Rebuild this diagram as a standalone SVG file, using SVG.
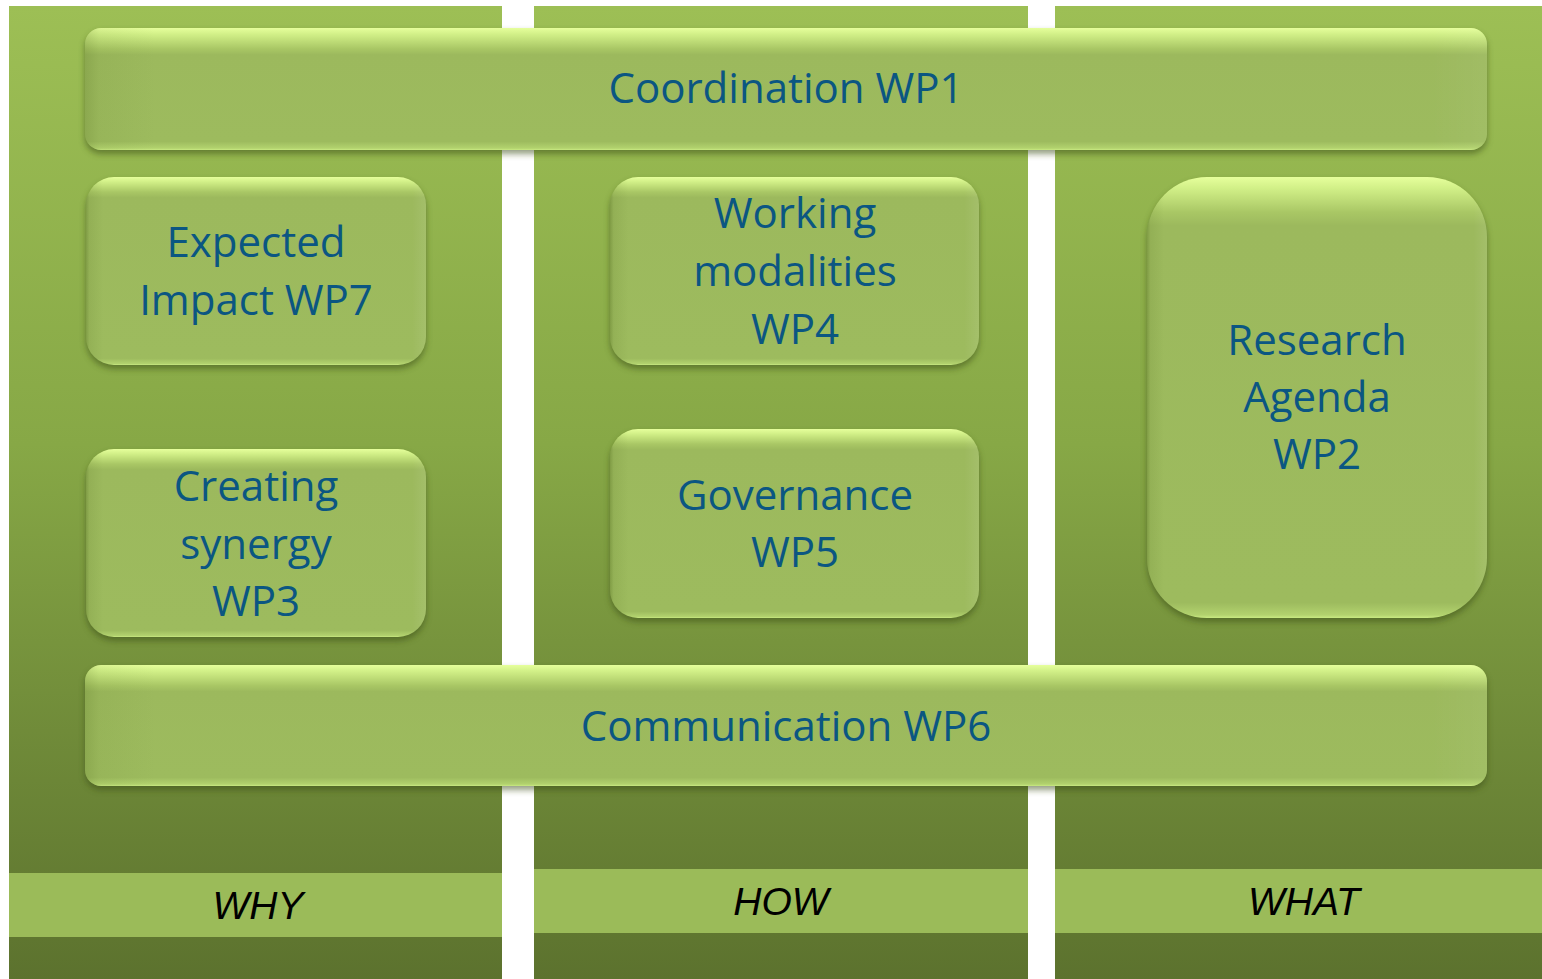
<svg xmlns="http://www.w3.org/2000/svg" width="1542" height="979" viewBox="0 0 1542 979">
<defs>
<linearGradient id="col" gradientUnits="userSpaceOnUse" x1="0" y1="6" x2="0" y2="979">
<stop offset="0" stop-color="#9dbf55"/>
<stop offset="0.45" stop-color="#87a846"/>
<stop offset="1" stop-color="#5c722e"/>
</linearGradient>
<linearGradient id="bev" x1="0" y1="0" x2="0" y2="1">
<stop offset="0" stop-color="#e6ff9c"/>
<stop offset="0.05" stop-color="#d2f088"/>
<stop offset="0.17" stop-color="#a9c765"/>
<stop offset="0.22" stop-color="#9cb95d"/>
<stop offset="0.93" stop-color="#9dbb5e"/>
<stop offset="0.985" stop-color="#b2d26e"/>
<stop offset="1" stop-color="#c9ea82"/>
</linearGradient>
<linearGradient id="bevT" x1="0" y1="0" x2="0" y2="1">
<stop offset="0" stop-color="#e6ff9c"/>
<stop offset="0.025" stop-color="#d2f088"/>
<stop offset="0.08" stop-color="#a9c765"/>
<stop offset="0.11" stop-color="#9cb95d"/>
<stop offset="0.965" stop-color="#9dbb5e"/>
<stop offset="0.993" stop-color="#b2d26e"/>
<stop offset="1" stop-color="#c9ea82"/>
</linearGradient>
<linearGradient id="side" x1="0" y1="0" x2="1" y2="0">
<stop offset="0" stop-color="#4a6418" stop-opacity="0.35"/>
<stop offset="0.01" stop-color="#506b1c" stop-opacity="0.12"/>
<stop offset="0.05" stop-color="#506b1c" stop-opacity="0"/>
<stop offset="0.96" stop-color="#ffffff" stop-opacity="0"/>
<stop offset="1" stop-color="#ffffff" stop-opacity="0.08"/>
</linearGradient>
<filter id="sh" x="-5%" y="-10%" width="110%" height="130%">
<feGaussianBlur stdDeviation="3"/>
</filter>
</defs>
<style>
.t{font-family:"Open Sans","Noto Sans",sans-serif;font-size:42px;fill:#0b5682;text-anchor:middle}
.l{font-family:"Liberation Sans",Arial,sans-serif;font-size:39px;font-style:italic;fill:#000;text-anchor:middle}
.shadow{fill:#3a4d16;opacity:0.55;filter:url(#sh)}
.band{fill:#9bbb59}
</style>
<rect width="1542" height="979" fill="#ffffff"/>
<g id="columns">
<rect x="9" y="6" width="493" height="973" fill="url(#col)"/>
<rect x="534" y="6" width="494" height="973" fill="url(#col)"/>
<rect x="1055" y="6" width="487" height="973" fill="url(#col)"/>
<rect class="band" x="9" y="873" width="493" height="64"/>
<rect class="band" x="534" y="869" width="494" height="64"/>
<rect class="band" x="1055" y="869" width="487" height="64"/>
<text class="l" x="258" y="919">WHY</text>
<text class="l" x="781" y="915">HOW</text>
<text class="l" x="1304" y="915">WHAT</text>
</g>
<g id="wp1">
<rect class="shadow" x="85" y="32" width="1402" height="122" rx="16"/>
<rect x="85" y="28" width="1402" height="122" rx="16" fill="url(#bev)"/>
<rect x="85" y="28" width="1402" height="122" rx="16" fill="url(#side)" opacity="0.6"/>
<text class="t" x="786" y="103">Coordination WP1</text>
</g>
<g id="wp7">
<rect class="shadow" x="86" y="181" width="340" height="188" rx="28"/>
<rect x="86" y="177" width="340" height="188" rx="28" fill="url(#bevT)"/>
<rect x="86" y="177" width="340" height="188" rx="28" fill="url(#side)"/>
<text class="t" x="256" y="257">Expected</text>
<text class="t" x="256" y="315">Impact WP7</text>
</g>
<g id="wp3">
<rect class="shadow" x="86" y="453" width="340" height="188" rx="28"/>
<rect x="86" y="449" width="340" height="188" rx="28" fill="url(#bevT)"/>
<rect x="86" y="449" width="340" height="188" rx="28" fill="url(#side)"/>
<text class="t" x="256" y="501">Creating</text>
<text class="t" x="256" y="559">synergy</text>
<text class="t" x="256" y="616">WP3</text>
</g>
<g id="wp4">
<rect class="shadow" x="610" y="181" width="369" height="188" rx="28"/>
<rect x="610" y="177" width="369" height="188" rx="28" fill="url(#bevT)"/>
<rect x="610" y="177" width="369" height="188" rx="28" fill="url(#side)"/>
<text class="t" x="795" y="228">Working</text>
<text class="t" x="795" y="286">modalities</text>
<text class="t" x="795" y="344">WP4</text>
</g>
<g id="wp5">
<rect class="shadow" x="610" y="433" width="369" height="189" rx="28"/>
<rect x="610" y="429" width="369" height="189" rx="28" fill="url(#bevT)"/>
<rect x="610" y="429" width="369" height="189" rx="28" fill="url(#side)"/>
<text class="t" x="795" y="510">Governance</text>
<text class="t" x="795" y="567">WP5</text>
</g>
<g id="wp2">
<rect class="shadow" x="1147" y="181" width="340" height="441" rx="60"/>
<rect x="1147" y="177" width="340" height="441" rx="60" fill="url(#bevT)"/>
<rect x="1147" y="177" width="340" height="441" rx="60" fill="url(#side)"/>
<text class="t" x="1317" y="355">Research</text>
<text class="t" x="1317" y="412">Agenda</text>
<text class="t" x="1317" y="469">WP2</text>
</g>
<g id="wp6">
<rect class="shadow" x="85" y="669" width="1402" height="121" rx="16"/>
<rect x="85" y="665" width="1402" height="121" rx="16" fill="url(#bev)"/>
<rect x="85" y="665" width="1402" height="121" rx="16" fill="url(#side)" opacity="0.6"/>
<text class="t" x="786" y="741">Communication WP6</text>
</g>
<g id="connectors"/>
</svg>
